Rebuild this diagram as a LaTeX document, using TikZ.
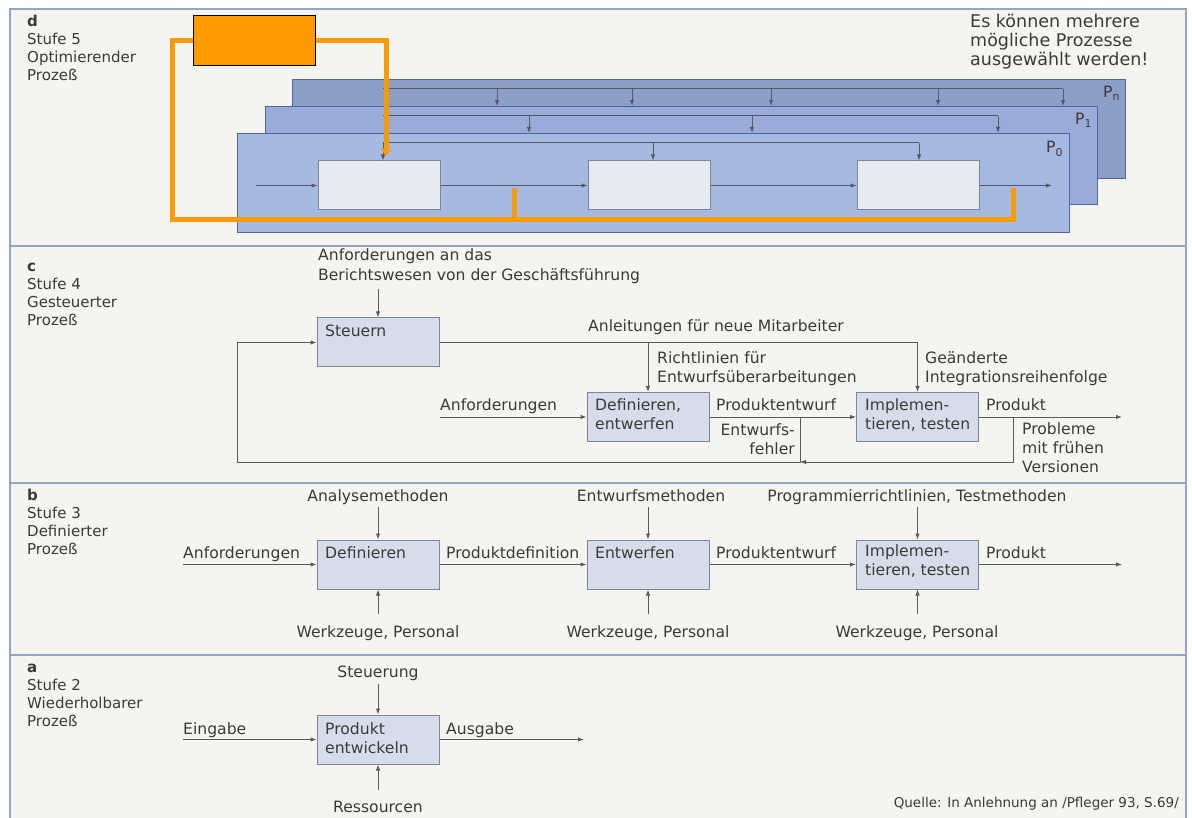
\documentclass[tikz,border=0pt]{standalone}
\usepackage{fontspec}
\setmainfont{DejaVu Sans}
\usetikzlibrary{arrows.meta}

\definecolor{ink}{HTML}{3A3A3A}
\definecolor{wire}{HTML}{555A63}
\definecolor{paper}{HTML}{F5F4F0}
\definecolor{rule}{HTML}{97A5C4}
\definecolor{boxfill}{HTML}{D6DDEA}
\definecolor{boxedge}{HTML}{7D8596}
\definecolor{planefront}{HTML}{A6B9E2}
\definecolor{planemid}{HTML}{99ABD6}
\definecolor{planeback}{HTML}{8D9FC9}
\definecolor{planeedge}{HTML}{4F67A5}
\definecolor{cellfill}{HTML}{E7EAF0}
\definecolor{opt}{HTML}{FF9A00}

\newcommand{\dfont}{\fontsize{15.6}{19}\selectfont}
\newcommand{\sfont}{\fontsize{15}{18}\selectfont}
\newcommand{\nfont}{\fontsize{17.5}{19}\selectfont}
\newcommand{\qfont}{\fontsize{13.5}{16}\selectfont}

\tikzset{
  txt/.style={inner sep=0pt, anchor=base west, font=\dfont, text=ink},
  ctxt/.style={inner sep=0pt, anchor=base, font=\dfont, text=ink},
  mtxt/.style={inner sep=0pt, anchor=north west, align=left, font=\dfont, text=ink},
  stage/.style={inner sep=0pt, anchor=north west, align=left, font=\sfont, text=ink},
  proc/.style={draw=boxedge, fill=boxfill, line width=1pt, minimum width=122pt, minimum height=49pt, inner sep=0pt},
  cell/.style={draw=boxedge, fill=cellfill, line width=1pt, minimum width=122pt, minimum height=49pt, inner sep=0pt},
  flow/.style={draw=wire, line width=1pt, -{Latex[length=6pt,width=4.5pt]}},
  wireline/.style={draw=wire, line width=1pt},
  plane/.style={draw=planeedge, line width=1.2pt, inner sep=0pt, anchor=north west},
  optline/.style={draw=opt, line width=5pt},
}

\begin{document}
\begin{tikzpicture}[x=1pt, y=-1pt]
\useasboundingbox (0,0) rectangle (1192,818);
\fill[white] (0,0) rectangle (1192,818);
\fill[paper] (10,9) rectangle (1186,818);

% frame and stage dividers
\draw[rule, line width=1.5pt] (10,818) -- (10,9) -- (1186,9) -- (1186,818);
\draw[rule, line width=1.5pt] (10,246) -- (1186,246);
\draw[rule, line width=1.5pt] (10,483) -- (1186,483);
\draw[rule, line width=1.5pt] (10,655) -- (1186,655);

% stage captions
\node[stage] (sd) at (27,13.4) {\strut\textbf{d}\\Stufe 5\\Optimierender\\Prozeß};
\node[stage] (sc) at (27,258.4) {\strut\textbf{c}\\Stufe 4\\Gesteuerter\\Prozeß};
\node[stage] (sb) at (27,487.4) {\strut\textbf{b}\\Stufe 3\\Definierter\\Prozeß};
\node[stage] (sa) at (27,659.4) {\strut\textbf{a}\\Stufe 2\\Wiederholbarer\\Prozeß};

% ---------------- Stufe 5: stacked alternative processes
\node[plane, fill=planeback, minimum width=833pt, minimum height=99pt] (pn) at (292,79) {};
\node[plane, fill=planemid, minimum width=832pt, minimum height=98pt] (p1) at (265,106) {};
\node[plane, fill=planefront, minimum width=832pt, minimum height=99pt] (p0) at (237,133) {};

\node[txt] (lpn) at (1103,98) {P\textsubscript{n}};
\node[txt] (lp1) at (1075,125) {P\textsubscript{1}};
\node[txt] (lp0) at (1046,153) {P\textsubscript{0}};

% control lines of P_n and P_1
\draw[wireline] (383,89) -- (1063,89);
\foreach \xx in {497,632,771,938,1063}
  \draw[flow] (\xx,89) -- (\xx,89 |- p1.north);
\draw[wireline] (383,116) -- (998,116);
\foreach \xx in {529,752,998}
  \draw[flow] (\xx,116) -- (\xx,116 |- p0.north);

% process P_0
\node[cell] (d1) at (379,185.5) {};
\node[cell] (d2) at (649,185.5) {};
\node[cell] (d3) at (918,185.5) {};
\coordinate (din) at (256,185.5);
\coordinate (dout) at (1052,185.5);
\draw[flow] (din) -- (d1.west);
\draw[flow] (d1.east) -- (d2.west);
\draw[flow] (d2.east) -- (d3.west);
\draw[flow] (d3.east) -- (dout);
\draw[wireline] (383,143) -- (919,143);
\draw[flow] (383,143) -- (383,143 |- d1.north);
\draw[flow] (653,143) -- (653,143 |- d2.north);
\draw[flow] (919,143) -- (919,143 |- d3.north);

% optimisation loop
\node[draw=black, fill=opt, line width=1pt, minimum width=122pt, minimum height=50pt, inner sep=0pt, anchor=north west] (opt) at (193,15) {};
\draw[optline] (opt.west) -| (172,220) -| (1013,188);
\draw[optline] (514,220) -- (514,188);
\draw[optline, -{Latex[length=9pt,width=12pt,round]}] (opt.east) -| (386,156);

\node[inner sep=0pt, anchor=north west, align=left, font=\nfont, text=ink] (note) at (970,13.7) {\strut Es können mehrere\\mögliche Prozesse\\ausgewählt werden!};

% ---------------- Stufe 4: controlled process
\node[proc] (st) at (378,342.5) {};
\node[txt] (stt) at (325,337) {Steuern};
\node[proc] (de) at (648,417) {};
\node[mtxt] (det) at (595,396.7) {\strut Definieren,\\entwerfen};
\node[proc] (im) at (917.5,417) {};
\node[mtxt] (imt) at (865,396.7) {\strut Implemen-\\tieren, testen};

\node[mtxt] (ber) at (318,246.7) {\strut Anforderungen an das\\[1pt]Berichtswesen von der Geschäftsführung};
\coordinate (ctop) at (378,289);
\draw[flow] (ctop) -- (st.north);

\node[txt] (anl) at (588,332) {Anleitungen für neue Mitarbeiter};
\draw[flow] (st.east) -| (im.north);
\draw[flow] (de.north |- st.east) -- (de.north);
\node[mtxt] (ric) at (657,349.7) {\strut Richtlinien für\\Entwurfsüberarbeitungen};
\node[mtxt] (gea) at (925,349.7) {\strut Geänderte\\Integrationsreihenfolge};

\coordinate (creq) at (440,417);
\coordinate (cout) at (1122,417);
\node[txt] (anf) at (440,410) {Anforderungen};
\node[txt] (pe4) at (716,410) {Produktentwurf};
\node[txt] (pr4) at (986,410) {Produkt};
\draw[flow] (creq) -- (de.west);
\draw[flow] (de.east) -- (im.west);
\draw[flow] (im.east) -- (cout);

% feedback paths
\coordinate (fb1) at (1013,417);
\coordinate (fb2) at (800,417);
\coordinate (join) at (800,462);
\coordinate (cleft) at (237,342.5);
\draw[flow] (fb1) |- (join);
\draw[flow] (fb2) -- (join) -| (cleft) -- (st.west);
\node[mtxt, align=right, anchor=north east] (ef) at (795,421.7) {\strut Entwurfs-\\fehler};
\node[mtxt] (prob) at (1022,420.7) {\strut Probleme\\mit frühen\\Versionen};

% ---------------- Stufe 3: defined process
\node[proc] (b1) at (378,564.5) {};
\node[txt] (b1t) at (325,558) {Definieren};
\node[proc] (b2) at (648,564.5) {};
\node[txt] (b2t) at (595,558) {Entwerfen};
\node[proc] (b3) at (917.5,564.5) {};
\node[mtxt] (b3t) at (865,542.7) {\strut Implemen-\\tieren, testen};

\node[ctxt] (am) at (378,501) {Analysemethoden};
\node[ctxt] (em) at (651,501) {Entwurfsmethoden};
\node[ctxt] (pm) at (917,501) {Programmierrichtlinien, Testmethoden};
\node[ctxt] (wp1) at (378,637) {Werkzeuge, Personal};
\node[ctxt] (wp2) at (648,637) {Werkzeuge, Personal};
\node[ctxt] (wp3) at (917,637) {Werkzeuge, Personal};
\foreach \bx in {b1,b2,b3} {
  \draw[flow] (\bx.north |- 0,507) -- (\bx.north);
  \draw[flow] (\bx.south |- 0,614) -- (\bx.south);
}

\coordinate (breq) at (183,564.5);
\coordinate (bout) at (1122,564.5);
\node[txt] (anf3) at (183,558) {Anforderungen};
\node[txt] (pd3) at (446,558) {Produktdefinition};
\node[txt] (pe3) at (716,558) {Produktentwurf};
\node[txt] (pr3) at (986,558) {Produkt};
\draw[flow] (breq) -- (b1.west);
\draw[flow] (b1.east) -- (b2.west);
\draw[flow] (b2.east) -- (b3.west);
\draw[flow] (b3.east) -- (bout);

% ---------------- Stufe 2: repeatable process
\node[proc] (a1) at (378,739.5) {};
\node[mtxt] (a1t) at (325,720.7) {\strut Produkt\\entwickeln};
\node[ctxt] (ste) at (378,677) {Steuerung};
\node[ctxt] (res) at (378,812) {Ressourcen};
\draw[flow] (a1.north |- 0,684) -- (a1.north);
\draw[flow] (a1.south |- 0,790) -- (a1.south);
\coordinate (ain) at (183,739.5);
\coordinate (aout) at (584,739.5);
\node[txt] (ein) at (183,734) {Eingabe};
\node[txt] (aus) at (446,734) {Ausgabe};
\draw[flow] (ain) -- (a1.west);
\draw[flow] (a1.east) -- (aout);

\node[inner sep=0pt, anchor=base east, font=\qfont, text=ink] (src) at (1179,807) {Quelle: In Anlehnung an /Pfleger 93, S.69/};
\end{tikzpicture}
\end{document}
